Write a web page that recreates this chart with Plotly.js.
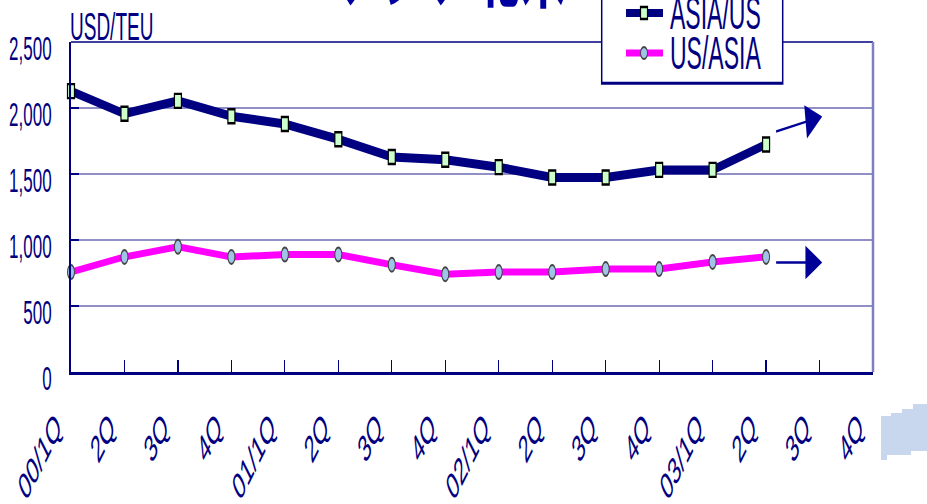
<!DOCTYPE html>
<html><head><meta charset="utf-8">
<script src="https://cdn.plot.ly/plotly-3.0.1.min.js"></script>
<style>
html,body{margin:0;padding:0;background:#fff;overflow:hidden;}
#wrap{width:927px;height:504px;overflow:hidden;position:relative;}
#chart{width:927px;height:252px;transform:scaleY(2);transform-origin:0 0;}
</style></head><body>
<div id="wrap"><div id="chart"></div></div>
<script>
// ---- data ----
const quarters = ['00/1Q','2Q','3Q','4Q','01/1Q','2Q','3Q','4Q','02/1Q','2Q','3Q','4Q','03/1Q','2Q','3Q','4Q'];
const asiaUs = [2128,1956,2054,1938,1879,1763,1629,1608,1552,1474,1474,1531,1531,1724];
const usAsia = [757,872,949,872,890,890,813,741,757,757,780,780,834,872];
const seriesNames = ['ASIA/US','US/ASIA'];
const unitLabel = 'USD/TEU';
const titleText = 'アジア北米';
// trend arrows: [x0, y0, x1, y1] in data units
const trendAsiaUs = [13.16, 1818, 14.05, 1936];
const trendUsAsia = [13.16, 830, 14.05, 830];

// ---- geometry helpers (final px -> paper) ----
const W = 927, H = 252, ML = 71, MR = 54, MT = 21, MB = 66;
const PW = W - ML - MR, PH = H - MT - MB;
const fx = x => (x - ML) / PW;
const fy = yFinal => (H - MB - yFinal / 2) / PH;

const NAVY = '#000080';
const FONT = 'Liberation Sans, Arial, sans-serif';
const xIdx = quarters.map((_, i) => i);

const traces = [
  {x: xIdx.slice(0, asiaUs.length), y: asiaUs, name: seriesNames[0], mode: 'lines+markers', cliponaxis: false,
   line: {color: NAVY, width: 4.5},
   marker: {symbol: 'square', size: 7, color: '#ccffcc', line: {color: '#000', width: 1.2}}},
  {x: xIdx.slice(0, usAsia.length), y: usAsia, name: seriesNames[1], mode: 'lines+markers', cliponaxis: false,
   line: {color: '#ff00ff', width: 3.5},
   marker: {symbol: 'circle', size: 7, color: '#9fc4e8', line: {color: '#444', width: 1}}}
];

function pathPaper(pts) {
  return 'M' + pts.map(p => fx(p[0]).toFixed(5) + ',' + fy(p[1]).toFixed(5)).join(' L') + ' Z';
}

const shapes = [
  {type: 'line', xref: 'paper', yref: 'paper', x0: 0, x1: 1, y0: 1, y1: 1, line: {color: NAVY, width: 0.8}},
  {type: 'line', xref: 'paper', yref: 'paper', x0: 1, x1: 1, y0: 0, y1: 1, line: {color: '#8080c0', width: 2.5}},
  // legend box
  {type: 'rect', xref: 'paper', yref: 'paper', x0: fx(601.7), x1: fx(782.7), y0: fy(83.3), y1: fy(-20),
   line: {color: NAVY, width: 1.5}, fillcolor: '#fff', layer: 'above'},
  {type: 'line', xref: 'paper', yref: 'paper', x0: fx(626), x1: fx(663), y0: fy(13), y1: fy(13), line: {color: NAVY, width: 4}, layer: 'above'},
  {type: 'rect', xref: 'paper', yref: 'paper', x0: fx(640.5), x1: fx(647.5), y0: fy(7), y1: fy(19),
   line: {color: '#000', width: 1.2}, fillcolor: '#ccffcc', layer: 'above'},
  {type: 'line', xref: 'paper', yref: 'paper', x0: fx(626), x1: fx(663), y0: fy(53), y1: fy(53), line: {color: '#ff00ff', width: 3.5}, layer: 'above'},
  {type: 'circle', xref: 'paper', yref: 'paper', x0: fx(640.5), x1: fx(647.5), y0: fy(47), y1: fy(59),
   line: {color: '#444', width: 1}, fillcolor: '#9fc4e8', layer: 'above'},
  // decorative block bottom right
  {type: 'path', xref: 'paper', yref: 'paper', fillcolor: '#c8d6ee', line: {width: 0},
   path: pathPaper([[881,416],[891,416],[891,413],[902,413],[902,409],[913,409],[913,404],[930,404],[930,451],[911,451],[911,455],[887,455],[887,460],[881,460]])}
];

const annotations = [
  {xref: 'paper', yref: 'paper', x: fx(68), y: fy(27.5), xanchor: 'left', yanchor: 'middle', showarrow: false,
   text: unitLabel, font: {family: FONT, size: 19, color: NAVY}},
  {xref: 'paper', yref: 'paper', x: fx(568), y: fy(31), xanchor: 'right', yanchor: 'bottom', showarrow: false,
   text: '<b>' + titleText + '</b>', font: {family: 'Noto Sans CJK JP, sans-serif', size: 46, color: '#0000a0'}},
  {xref: 'paper', yref: 'paper', x: fx(668), y: fy(13), xanchor: 'left', yanchor: 'middle', showarrow: false, height: 21,
   text: seriesNames[0], font: {family: FONT, size: 23, color: NAVY}},
  {xref: 'paper', yref: 'paper', x: fx(668), y: fy(53), xanchor: 'left', yanchor: 'middle', showarrow: false, height: 21,
   text: seriesNames[1], font: {family: FONT, size: 23, color: NAVY}},
  {x: trendAsiaUs[2], y: trendAsiaUs[3], ax: trendAsiaUs[0], ay: trendAsiaUs[1], xref: 'x', yref: 'y', axref: 'x', ayref: 'y',
   text: '', showarrow: true, arrowhead: 2, arrowsize: 2.8, arrowwidth: 1.2, arrowcolor: '#000099', standoff: 0},
  {x: trendUsAsia[2], y: trendUsAsia[3], ax: trendUsAsia[0], ay: trendUsAsia[1], xref: 'x', yref: 'y', axref: 'x', ayref: 'y',
   text: '', showarrow: true, arrowhead: 2, arrowsize: 2.8, arrowwidth: 1.2, arrowcolor: '#000099', standoff: 0}
];

const layout = {
  width: W, height: H,
  margin: {l: ML, r: MR, t: MT, b: MB, pad: 0},
  paper_bgcolor: '#fff', plot_bgcolor: '#fff',
  showlegend: false,
  xaxis: {range: [0, 15], tickvals: xIdx, ticktext: quarters, tickangle: -45,
          ticks: 'inside', ticklen: 6, tickwidth: 1.2, tickcolor: NAVY,
          showline: true, linecolor: NAVY, linewidth: 1.5, showgrid: false, zeroline: false,
          tickfont: {family: FONT, size: 19, color: NAVY}, ticklabelstandoff: 7, ticklabelshift: -15, automargin: false, fixedrange: true},
  yaxis: {range: [0, 2500], dtick: 500, tickformat: ',',
          ticks: 'inside', ticklen: 8, tickwidth: 1, tickcolor: NAVY,
          showline: true, linecolor: NAVY, linewidth: 2, gridcolor: '#6b6bb5', gridwidth: 0.7, zeroline: false,
          tickfont: {family: FONT, size: 17, color: NAVY}, ticklabelstandoff: 14, ticklabelshift: 3, automargin: false, fixedrange: true},
  shapes: shapes,
  annotations: annotations
};

Plotly.newPlot('chart', traces, layout, {staticPlot: true, displayModeBar: false});
</script>
</body></html>
